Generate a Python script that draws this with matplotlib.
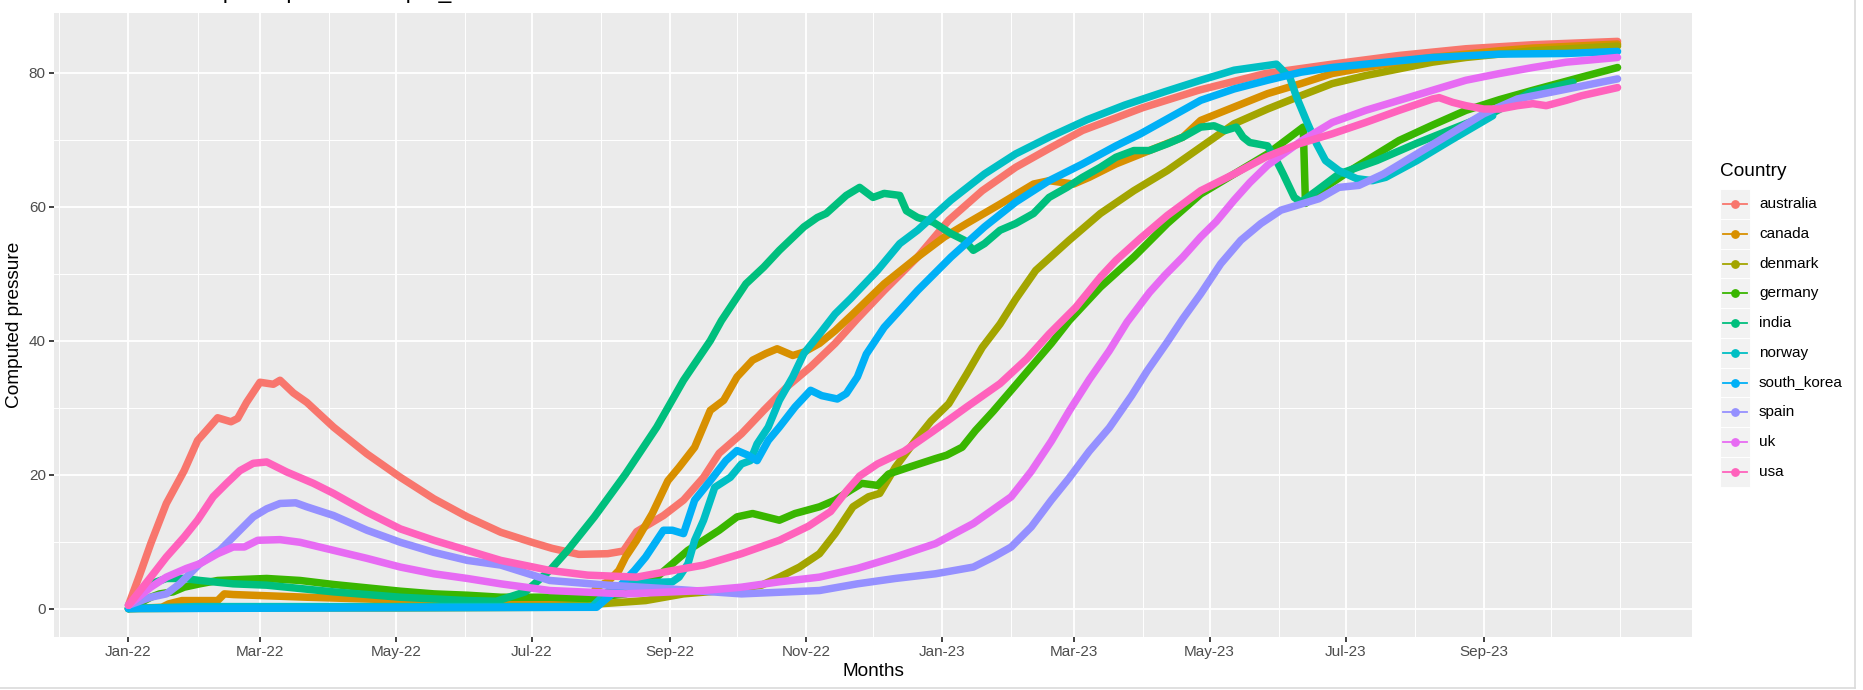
import numpy as np
import matplotlib
matplotlib.use("Agg")
import matplotlib.pyplot as plt
import matplotlib.dates as mdates
from matplotlib.lines import Line2D
from matplotlib.patches import Rectangle

plt.rcParams["font.family"] = ["Liberation Sans", "DejaVu Sans"]

# ---- data: days since 2022-01-01 and computed pressure ----
countries = ["australia", "canada", "denmark", "germany", "india",
             "norway", "south_korea", "spain", "uk", "usa"]
colors = ["#F8766D", "#D89000", "#A3A500", "#39B600", "#00BF7D",
          "#00BFC4", "#00B0F6", "#9590FF", "#E76BF3", "#FF62BC"]

australia_days = [0, 5, 10, 17, 25, 31, 35, 40, 46, 49, 53, 59, 65, 68, 74, 80, 92, 107, 122, 137,
                  152, 167, 181, 190, 202, 215, 222, 228, 240, 249, 258, 265, 275, 285, 296, 306,
                  317, 327, 339, 354, 368, 383, 398, 413, 428, 455, 480, 510, 540, 570, 600, 630, 668]
australia_vals = [0.5, 5.0, 9.7, 15.7, 20.6, 25.1, 26.6, 28.5, 27.9, 28.4, 30.8, 33.8, 33.5, 34.1,
                  32.2, 30.8, 27.1, 23.1, 19.6, 16.4, 13.7, 11.4, 9.9, 9.0, 8.1, 8.2, 8.6, 11.5,
                  13.9, 16.2, 19.6, 23.2, 26.1, 29.6, 33.3, 36.1, 39.6, 43.3, 47.5, 52.5, 58.0,
                  62.4, 65.9, 68.7, 71.4, 74.8, 77.4, 79.9, 81.3, 82.6, 83.6, 84.2, 84.7]

canada_days = [0, 15, 18, 24, 40, 43, 47, 80, 120, 167, 189, 206, 208, 210, 215, 220, 223, 228,
               235, 242, 247, 254, 261, 267, 273, 280, 286, 291, 298, 303, 310, 317, 325, 339,
               354, 366, 376, 391, 406, 413, 424, 431, 443, 458, 473, 481, 496, 511, 526, 540,
               555, 570, 585, 600, 615, 630, 668]
canada_vals = [0.0, 0.2, 0.7, 1.2, 1.2, 2.2, 2.1, 1.7, 1.3, 0.8, 1.0, 1.2, 2.0, 3.2, 4.0, 5.7,
               7.7, 10.2, 14.2, 19.1, 21.1, 24.1, 29.6, 31.1, 34.6, 37.1, 38.1, 38.8, 37.8, 38.3,
               39.6, 41.5, 44.0, 48.5, 52.5, 55.5, 57.5, 60.4, 63.4, 63.9, 63.4, 64.4, 66.4,
               68.4, 70.4, 72.9, 74.9, 76.9, 78.4, 79.9, 80.8, 81.6, 82.3, 82.8, 83.3, 83.7, 84.3]

denmark_days = [0, 60, 120, 189, 211, 232, 249, 267, 284, 292, 301, 310, 317, 325, 332, 337, 344,
                353, 360, 368, 376, 383, 391, 398, 407, 422, 436, 451, 466, 481, 496, 511, 526,
                540, 555, 570, 585, 600, 615, 630, 668]
denmark_vals = [0.0, 0.1, 0.1, 0.2, 0.7, 1.2, 2.2, 2.7, 3.5, 4.7, 6.2, 8.2, 11.2, 15.2, 16.7,
                17.2, 21.1, 25.1, 28.0, 30.6, 35.0, 39.0, 42.5, 46.2, 50.5, 55.0, 59.0, 62.4,
                65.4, 68.9, 72.4, 74.6, 76.6, 78.4, 79.6, 80.6, 81.6, 82.3, 82.8, 83.3, 84.0]

germany_days = [0, 5, 10, 14, 20, 25, 32, 40, 47, 62, 77, 92, 107, 122, 137, 152, 167, 189, 206,
                223, 237, 244, 251, 258, 265, 273, 280, 292, 299, 310, 317, 324, 329, 336, 341,
                350, 362, 367, 374, 380, 388, 396, 405, 414, 422, 436, 451, 466, 481, 496, 511,
                527, 528, 535, 548, 570, 585, 600, 615, 630, 650, 668]
germany_vals = [0.0, 0.8, 1.7, 2.2, 2.5, 3.2, 3.7, 4.2, 4.3, 4.5, 4.2, 3.6, 3.1, 2.6, 2.2, 2.0,
                1.7, 1.7, 1.5, 2.2, 4.7, 6.7, 8.7, 10.2, 11.7, 13.7, 14.2, 13.2, 14.2, 15.2,
                16.2, 17.7, 18.7, 18.4, 20.1, 21.1, 22.4, 22.9, 24.1, 26.6, 29.5, 32.6, 36.1,
                39.6, 43.0, 48.0, 52.5, 57.5, 61.9, 64.9, 67.9, 71.9, 60.5, 62.5, 65.4, 69.9,
                72.2, 74.4, 76.0, 77.4, 79.2, 80.8]

india_days = [0, 4, 10, 17, 25, 32, 47, 62, 92, 122, 152, 165, 178, 189, 197, 209, 223, 237, 249,
              261, 266, 277, 285, 292, 303, 309, 313, 322, 328, 334, 339, 346, 349, 354, 361, 369,
              375, 379, 384, 391, 398, 406, 413, 421, 428, 436, 443, 451, 458, 466, 473, 481,
              487, 492, 497, 500, 503, 511, 515, 518, 523, 526, 533, 543, 560, 578, 593, 612,
              629, 648]
india_vals = [0.0, 2.0, 3.7, 4.5, 4.5, 4.2, 3.7, 3.5, 2.5, 1.7, 1.2, 1.1, 2.5, 5.7, 8.7, 13.7,
              20.1, 27.1, 34.1, 40.0, 43.0, 48.5, 51.0, 53.5, 57.0, 58.4, 59.0, 61.7, 62.9,
              61.4, 62.0, 61.7, 59.4, 58.4, 57.7, 56.0, 55.0, 53.5, 54.5, 56.5, 57.5, 59.0,
              61.4, 62.9, 64.4, 65.9, 67.4, 68.4, 68.4, 69.4, 70.4, 71.9, 72.1, 71.4, 71.9,
              70.4, 69.6, 69.1, 66.9, 64.9, 61.4, 60.7, 62.4, 64.9, 66.9, 69.5, 71.5, 74.0,
              77.1, 78.6]

norway_days = [0, 30, 100, 180, 208, 215, 226, 244, 247, 251, 254, 258, 263, 270, 275, 279, 282,
               287, 292, 298, 303, 310, 317, 324, 336, 346, 354, 369, 384, 398, 413, 430, 447,
               465, 481, 496, 515, 521, 524, 529, 533, 537, 543, 551, 558, 564, 578, 593, 612]
norway_vals = [0.0, 0.3, 0.3, 0.3, 0.3, 2.5, 3.8, 4.0, 4.7, 6.7, 10.2, 13.2, 18.1, 19.6, 21.6,
               22.1, 24.6, 27.1, 31.1, 34.6, 38.1, 41.0, 44.0, 46.3, 50.5, 54.5, 56.5, 61.0,
               64.9, 67.9, 70.4, 73.0, 75.2, 77.2, 78.9, 80.4, 81.3, 79.3, 76.4, 72.4, 69.4,
               66.9, 65.4, 64.2, 63.9, 64.4, 66.9, 69.9, 73.6]

south_korea_days = [0, 100, 210, 218, 227, 232, 235, 240, 244, 249, 254, 261, 268, 273, 278,
                    282, 287, 292, 299, 306, 311, 318, 322, 327, 331, 339, 354, 369, 384, 398,
                    413, 428, 443, 454, 481, 496, 511, 526, 540, 555, 570, 585, 615, 645, 668]
south_korea_vals = [0.0, 0.1, 0.2, 2.5, 5.7, 7.7, 9.2, 11.7, 11.7, 11.2, 16.2, 19.1, 22.1,
                    23.6, 22.9, 22.1, 25.1, 27.1, 30.1, 32.6, 31.8, 31.3, 32.1, 34.6, 38.0,
                    42.0, 47.5, 52.5, 57.0, 60.7, 63.9, 66.4, 69.1, 70.9, 75.9, 77.6, 78.9,
                    80.1, 80.8, 81.3, 81.8, 82.3, 82.8, 82.9, 83.2]

spain_days = [0, 10, 17, 23, 32, 41, 47, 56, 62, 68, 75, 80, 92, 107, 122, 137, 152, 167, 189,
              215, 240, 275, 310, 327, 344, 362, 379, 388, 396, 405, 414, 422, 431, 440, 450,
              457, 466, 473, 481, 490, 499, 508, 517, 526, 534, 543, 552, 563, 578, 593, 608,
              623, 638, 653, 668]
spain_vals = [0.5, 1.7, 2.2, 3.7, 6.7, 8.7, 10.7, 13.7, 14.9, 15.7, 15.8, 15.2, 13.9, 11.7, 9.9,
              8.4, 7.2, 6.5, 4.2, 3.5, 3.0, 2.2, 2.7, 3.7, 4.5, 5.2, 6.2, 7.7, 9.2, 12.2, 16.2,
              19.5, 23.5, 27.0, 31.8, 35.5, 39.8, 43.3, 47.0, 51.5, 55.0, 57.5, 59.5, 60.4,
              61.2, 62.9, 63.2, 64.9, 67.9, 70.9, 73.9, 76.1, 77.1, 78.1, 79.1]

uk_days = [0, 10, 17, 26, 32, 40, 47, 52, 58, 68, 77, 92, 107, 122, 137, 152, 167, 189, 223,
           258, 275, 292, 310, 327, 344, 362, 379, 396, 405, 414, 422, 431, 440, 448, 458, 465,
           473, 481, 488, 496, 503, 511, 526, 540, 555, 570, 585, 600, 615, 630, 645, 668]
uk_vals = [0.5, 3.2, 4.7, 6.0, 6.7, 8.2, 9.2, 9.2, 10.2, 10.3, 9.9, 8.7, 7.5, 6.2, 5.2, 4.5,
           3.7, 2.7, 2.2, 2.7, 3.2, 4.0, 4.7, 6.0, 7.7, 9.7, 12.7, 16.7, 20.5, 25.0, 29.5,
           34.2, 38.5, 42.8, 47.2, 49.8, 52.5, 55.5, 57.8, 61.0, 63.6, 66.2, 69.8, 72.6, 74.4,
           75.9, 77.4, 78.9, 79.9, 80.8, 81.6, 82.3]

usa_days = [0, 10, 17, 25, 31, 38, 44, 50, 56, 62, 71, 83, 92, 107, 122, 137, 152, 167, 189,
            206, 228, 241, 258, 275, 292, 305, 315, 322, 328, 336, 348, 361, 376, 391, 403, 413,
            425, 436, 443, 454, 466, 481, 496, 510, 525, 540, 555, 570, 585, 588, 594, 600, 608,
            615, 623, 630, 636, 645, 652, 668]
usa_vals = [0.5, 4.7, 7.7, 10.7, 13.2, 16.7, 18.7, 20.6, 21.7, 21.9, 20.4, 18.7, 17.2, 14.4,
            11.9, 10.2, 8.7, 7.2, 5.7, 5.0, 4.7, 5.5, 6.5, 8.2, 10.2, 12.3, 14.5, 17.5, 19.8,
            21.6, 23.5, 26.5, 30.1, 33.6, 37.3, 41.0, 45.0, 49.5, 52.0, 55.3, 58.7, 62.4, 64.9,
            67.4, 69.4, 70.9, 72.6, 74.4, 76.1, 76.3, 75.6, 75.1, 74.6, 74.6, 75.1, 75.4, 75.1,
            75.9, 76.6, 77.8]

series_days = [australia_days, canada_days, denmark_days, germany_days, india_days,
               norway_days, south_korea_days, spain_days, uk_days, usa_days]
series_vals = [australia_vals, canada_vals, denmark_vals, germany_vals, india_vals,
               norway_vals, south_korea_vals, spain_vals, uk_vals, usa_vals]

tick_labels = ["Jan-22", "Mar-22", "May-22", "Jul-22", "Sep-22", "Nov-22",
               "Jan-23", "Mar-23", "May-23", "Jul-23", "Sep-23"]

# ---- figure ----
W, H = 1863, 690
fig = plt.figure(figsize=(W / 100, H / 100), dpi=100)
fig.patch.set_facecolor("white")

# panel in pixel coordinates (left, top, right, bottom)
pl, pt, pr, pb = 54, 13, 1692, 637
ax = fig.add_axes([pl / W, 1 - pb / H, (pr - pl) / W, (pb - pt) / H])
ax.set_facecolor("#EBEBEB")
for s in ax.spines.values():
    s.set_visible(False)

start = np.datetime64("2022-01-01")


def to_dates(days):
    return mdates.date2num(start + np.array(days, dtype="timedelta64[D]"))


for name, col, d, v in zip(countries, colors, series_days, series_vals):
    ax.plot(to_dates(d), v, color=col, lw=5.4, solid_capstyle="round",
            solid_joinstyle="round", zorder=3)

x0 = mdates.date2num(start)
ax.set_xlim(x0 - 33.4, x0 + 701.4)
ax.set_ylim(-4.24, 88.94)

major = [np.datetime64(f"{y}-{m:02d}-01") for y in (2022, 2023) for m in (1, 3, 5, 7, 9, 11)][:11]
minor = [np.datetime64("2021-12-01")] + \
        [np.datetime64(f"{y}-{m:02d}-01") for y in (2022, 2023) for m in (2, 4, 6, 8, 10, 12)][:11] + \
        [np.datetime64("2023-11-01")]
ax.set_xticks(mdates.date2num(major))
ax.set_xticklabels(tick_labels)
ax.set_xticks(mdates.date2num(minor), minor=True)
ax.set_yticks([0, 20, 40, 60, 80])
ax.set_yticks([10, 30, 50, 70], minor=True)

ax.grid(which="major", color="white", lw=1.35)
ax.grid(which="minor", color="white", lw=0.7)
ax.set_axisbelow(True)
ax.tick_params(which="major", length=3.4, width=1.3, color="#333333",
               labelsize=10.95, labelcolor="#4D4D4D", pad=2.5)
ax.tick_params(which="minor", length=0)

# axis titles
fig.text(873 / W, 1 - 672 / H, "Months", fontsize=13.7, ha="center", va="center")
fig.text(15 / W, 1 - 325 / H, "Computed pressure", fontsize=13.7, ha="center",
         va="center", rotation=90)

# title sits above the top edge: only its descenders show, as in the screenshot
fig.text(pl / W, 1 + 2 / H, "Evolution of computed pressure in per_month",
         fontsize=16.4, ha="left", va="baseline")

# legend (ggplot style)
fig.text(1720 / W, 1 - 172 / H, "Country", fontsize=13.7, ha="left", va="center")
row_h = 29.75
for i, (name, col) in enumerate(zip(countries, colors)):
    cy = 204 + i * row_h
    fig.add_artist(Rectangle((1720 / W, 1 - (cy + row_h / 2) / H), 30 / W, row_h / H,
                             transform=fig.transFigure, facecolor="#F2F2F2",
                             edgecolor="white", lw=0.7))
    fig.add_artist(Line2D([1723 / W, 1747 / W], [1 - cy / H] * 2, transform=fig.transFigure,
                          color=col, lw=1.3))
    fig.add_artist(Line2D([1735 / W], [1 - cy / H], transform=fig.transFigure, color=col,
                          marker="o", markersize=5.3, lw=0))
    fig.text(1759 / W, 1 - cy / H, name, fontsize=10.95, ha="left", va="center")

# screenshot window edges
fig.add_artist(Line2D([1855 / W, 1855 / W], [1 - 688 / H, 1], transform=fig.transFigure,
                      color="#DADADA", lw=1.2))
fig.add_artist(Line2D([0, 1855 / W], [1 - 688 / H, 1 - 688 / H], transform=fig.transFigure,
                      color="#DADADA", lw=1.2))

fig.savefig("out.png", dpi=100)
